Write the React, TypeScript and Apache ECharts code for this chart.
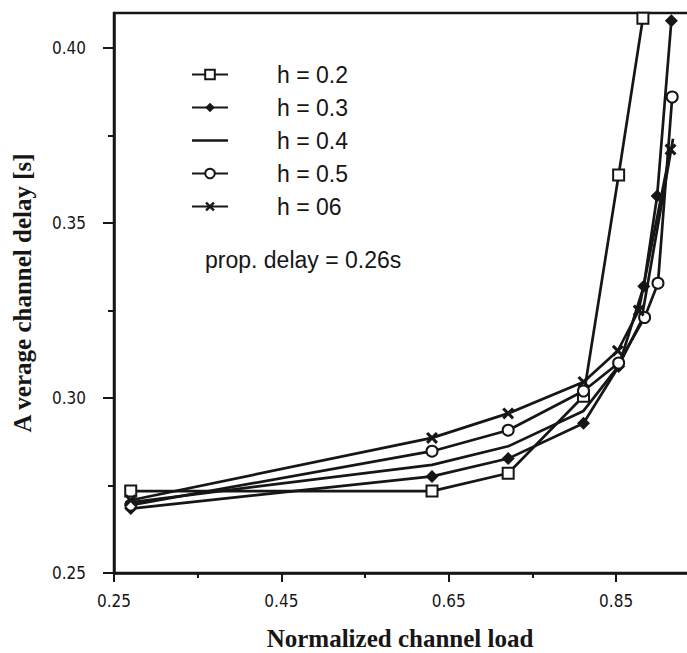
import React, { useEffect, useRef } from "react";
import * as echarts from "echarts";

// Data: [normalized channel load, average channel delay (s)]
const seriesNames = ["h = 0.2", "h = 0.3", "h = 0.4", "h = 0.5", "h = 06"];

const h02: number[][] = [
  [0.27, 0.2734], [0.63, 0.2734], [0.721, 0.2785], [0.811, 0.3005], [0.853, 0.3637], [0.882, 0.4085],
];
const h03: number[][] = [
  [0.27, 0.2684], [0.63, 0.2776], [0.721, 0.2827], [0.811, 0.2928], [0.853, 0.309], [0.883, 0.3319], [0.899, 0.3577], [0.916, 0.4078],
];
const h04: number[][] = [
  [0.27, 0.2702], [0.63, 0.2809], [0.721, 0.2862], [0.811, 0.2963], [0.853, 0.3092], [0.88, 0.322], [0.918, 0.3741],
];
const h05: number[][] = [
  [0.27, 0.2694], [0.63, 0.2848], [0.721, 0.2908], [0.811, 0.302], [0.853, 0.310], [0.884, 0.323], [0.9, 0.3328], [0.917, 0.386],
];
const h06: number[][] = [
  [0.27, 0.2708], [0.63, 0.2886], [0.721, 0.2956], [0.811, 0.3046], [0.852, 0.3135], [0.877, 0.325], [0.915, 0.371],
];

const xMajorTicks = [0.25, 0.45, 0.65, 0.85];
const xMinorTicks = [0.35, 0.55, 0.75];
const yMajorTicks = [0.25, 0.3, 0.35, 0.4];
const yMinorTicks = [0.275, 0.325, 0.375];

const annotation = "prop. delay = 0.26s";
const xTitle = "Normalized channel load";
const yTitle = "A verage channel delay [s]";

const INK = "#161616";
const narrow = '"Liberation Sans Narrow", "Arial Narrow", "DejaVu Sans Condensed", "Liberation Sans", Arial, sans-serif';
const sans = '"Liberation Sans", Arial, Helvetica, sans-serif';
const serif = '"Liberation Serif", "Times New Roman", serif';
const starPath = "path://M0,1.8 L1.8,0 L5,3.2 L8.2,0 L10,1.8 L6.8,5 L10,8.2 L8.2,10 L5,6.8 L1.8,10 L0,8.2 L3.2,5 Z";
const plainLineIcon = "path://M0,0 L36,0 L36,2.5 L0,2.5 Z";

export default function App() {
  const ref = useRef<HTMLDivElement>(null);
  useEffect(() => {
    if (!ref.current) return;
    const chart = echarts.init(ref.current, undefined, { renderer: "svg" });
    const lineBase = (name: string, data: number[][], symbol: string, symbolSize: number, empty: boolean) => ({
      name,
      type: "line",
      data,
      symbol,
      symbolSize,
      showSymbol: symbol !== "none",
      lineStyle: { color: INK, width: 2.7 },
      itemStyle: empty ? { color: INK, borderColor: INK, borderWidth: 2.6 } : { color: INK, borderWidth: 0 },
      emphasis: { disabled: true },
      z: 3,
    });
    const xCommon = { type: "value", min: 0.25, max: 0.955, gridIndex: 0, splitLine: { show: false } };
    const yCommon = { type: "value", min: 0.25, max: 0.41, gridIndex: 0, splitLine: { show: false } };
    chart.setOption({
      animation: false,
      grid: {
        left: 114, top: 13, width: 590, bottom: 80,
        containLabel: false,
        outerBoundsMode: "none",
        show: true, borderColor: INK, borderWidth: 2.5, backgroundColor: "transparent",
      },
      xAxis: [
        {
          ...xCommon,
          position: "bottom",
          axisLine: { show: true, lineStyle: { color: INK, width: 2.5 } },
          axisTick: { show: true, inside: false, length: 9, customValues: xMajorTicks, lineStyle: { color: INK, width: 2 } },
          axisLabel: {
            customValues: xMajorTicks, formatter: (v: number) => v.toFixed(2),
            margin: 19, fontSize: 17, fontFamily: narrow, color: INK,
          },
          name: xTitle, nameLocation: "middle", nameGap: 53,
          nameTextStyle: { fontFamily: serif, fontWeight: "bold", fontSize: 25, color: INK, padding: [0, 18, 0, 0] },
        },
        {
          ...xCommon,
          position: "bottom",
          axisLine: { show: false },
          axisTick: { show: true, inside: false, length: 5, customValues: xMinorTicks, lineStyle: { color: INK, width: 2 } },
          axisLabel: { show: false },
        },
      ],
      yAxis: [
        {
          ...yCommon,
          position: "left",
          axisLine: { show: true, lineStyle: { color: INK, width: 2.5 } },
          axisTick: { show: true, inside: false, length: 11, customValues: yMajorTicks, lineStyle: { color: INK, width: 2 } },
          axisLabel: {
            customValues: yMajorTicks, formatter: (v: number) => v.toFixed(2),
            margin: 28, fontSize: 17, fontFamily: narrow, color: INK,
          },
          name: yTitle, nameLocation: "middle", nameGap: 79,
          nameTextStyle: { fontFamily: serif, fontWeight: "bold", fontSize: 25, color: INK },
        },
        {
          ...yCommon,
          position: "left",
          axisLine: { show: false },
          axisTick: { show: true, inside: false, length: 6, customValues: yMinorTicks, lineStyle: { color: INK, width: 2 } },
          axisLabel: { show: false },
        },
      ],
      legend: {
        data: [
          { name: seriesNames[0] },
          { name: seriesNames[1] },
          { name: seriesNames[2], icon: plainLineIcon },
          { name: seriesNames[3] },
          { name: seriesNames[4] },
        ],
        orient: "vertical",
        left: 186,
        top: 58,
        itemWidth: 36,
        itemHeight: 12,
        itemGap: 10,
        selectedMode: false,
        symbolKeepAspect: true,
        textStyle: { fontSize: 23, fontFamily: sans, color: INK, padding: [0, 0, 0, 44] },
      },
      graphic: [
        {
          type: "text",
          left: 205,
          top: 248,
          style: { text: annotation, fontSize: 23, fontFamily: sans, fill: INK },
        },
      ],
      series: [
        lineBase(seriesNames[0], h02, "emptyRect", 11, true),
        lineBase(seriesNames[1], h03, "diamond", 13, false),
        lineBase(seriesNames[2], h04, "none", 0, false),
        lineBase(seriesNames[3], h05, "emptyCircle", 11, true),
        lineBase(seriesNames[4], h06, starPath, 12, false),
      ],
    });
    return () => chart.dispose();
  }, []);
  return (
    <div
      ref={ref}
      style={{ position: "absolute", left: 0, top: 0, width: 687, height: 653, background: "#ffffff" }}
    />
  );
}
